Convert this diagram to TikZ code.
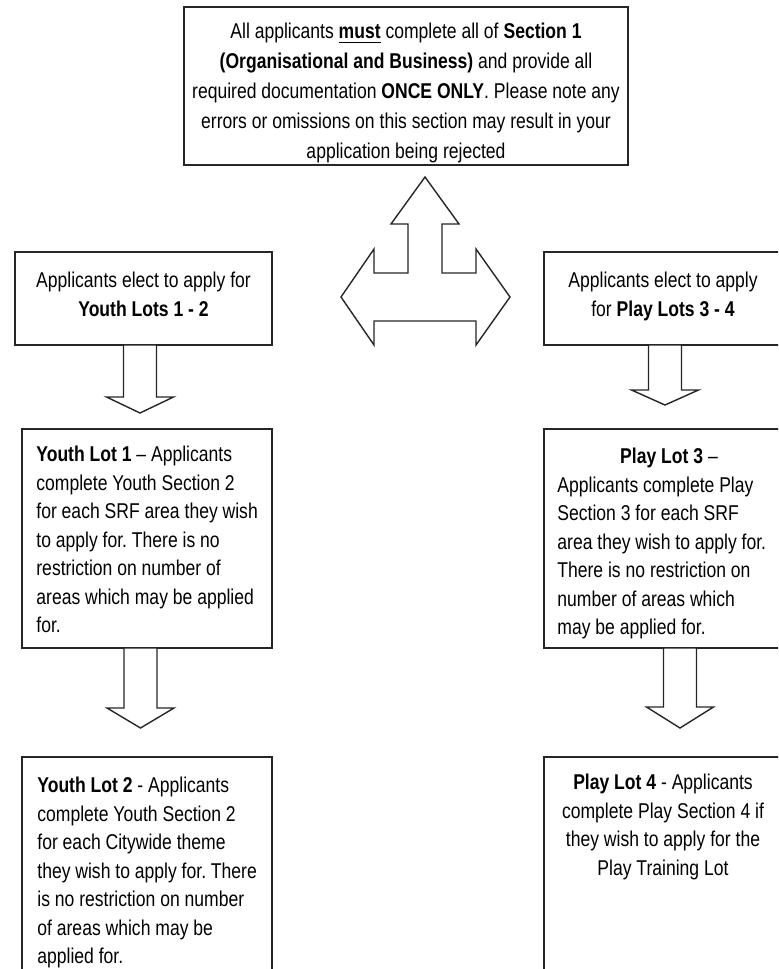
\documentclass[tikz,border=0pt]{standalone}
\usepackage{fontspec}
\setmainfont{Liberation Sans}[FakeStretch=0.82]
\usetikzlibrary{positioning, calc}
\tikzset{
  lot_box/.style={rectangle, draw=black!85, line width=0.9pt, inner sep=0pt, outer sep=0pt, anchor=north west},
  lot_text/.style={inner sep=0pt, font=\frenchspacing\fontsize{10.7pt}{14.25pt}\selectfont},
  top_text/.style={inner sep=0pt, align=center, font=\frenchspacing\fontsize{10.7pt}{14.9pt}\selectfont},
  block_arrow/.style={draw=black!85, line width=0.7pt, fill=white, line join=miter}
}
% block arrow pointing down: node, x offset, shaft length, head length
\newcommand{\downblock}[4]{%
  \draw[block_arrow] ($(#1.south)+(#2-16.5,0)$) -- ++(0,#3) -- ++(-17,0)
    -- ++(33.5,#4) -- ++(33.5,-#4) -- ++(-17,0) -- ++(0,-#3) -- cycle;}

\begin{document}
\begin{tikzpicture}[x=0.5pt, y=-0.5pt]
  \useasboundingbox (0,0) rectangle (778,969);
  \clip (0,0) rectangle (778,969);

  % --- Boxes ---
  \node[lot_box, minimum width=222pt, minimum height=79pt] (top) at (184,7) {};
  \node[lot_box, minimum width=128.5pt, minimum height=46.5pt] (youthSel) at (15,252) {};
  \node[lot_box, minimum width=119pt, minimum height=46.5pt] (playSel) at (544,252) {};
  \node[lot_box, minimum width=125pt, minimum height=109.5pt] (youthA) at (22,429) {};
  \node[lot_box, minimum width=119pt, minimum height=109.5pt] (playA) at (544,429) {};
  \node[lot_box, minimum width=125pt, minimum height=115pt] (youthB) at (22,757) {};
  \node[lot_box, minimum width=119pt, minimum height=115pt] (playB) at (544,757) {};

  % --- Texts ---
  \node[top_text, below=8pt of top.north] (topText) {All applicants \underline{\textbf{must}} complete all of \textbf{Section 1}\\
    \textbf{(Organisational and Business)} and provide all\\
    required documentation \textbf{ONCE ONLY}. Please note any\\
    errors or omissions on this section may result in your\\
    application being rejected};
  \node[lot_text, align=center, below=10pt of youthSel.north] (youthSelText) {Applicants elect to apply for\\ \textbf{Youth Lots 1 - 2}};
  \node[lot_text, align=center, below=10pt of playSel.north] (playSelText) {Applicants elect to apply\\ for \textbf{Play Lots 3 - 4}};
  \node[lot_text, align=left, anchor=north west, below right=8.5pt and 7pt of youthA.north west] (youthAText) {\textbf{Youth Lot 1} -- Applicants\\
    complete Youth Section 2\\
    for each SRF area they wish\\
    to apply for. There is no\\
    restriction on number of\\
    areas which may be applied\\
    for.};
  \node[lot_text, below=9.5pt of playA.north, xshift=3pt] (playAHead) {\textbf{Play Lot 3} --};
  \node[lot_text, align=left, anchor=north west, below right=23.75pt and 6.5pt of playA.north west] (playAText) {Applicants complete Play\\
    Section 3 for each SRF\\
    area they wish to apply for.\\
    There is no restriction on\\
    number of areas which\\
    may be applied for.};
  \node[lot_text, align=left, anchor=north west, below right=10pt and 7.5pt of youthB.north west] (youthBText) {\textbf{Youth Lot 2} - Applicants\\
    complete Youth Section 2\\
    for each Citywide theme\\
    they wish to apply for. There\\
    is no restriction on number\\
    of areas which may be\\
    applied for.};
  \node[lot_text, align=center, below=8.5pt of playB.north] (playBText) {\textbf{Play Lot 4} - Applicants\\
    complete Play Section 4 if\\
    they wish to apply for the\\
    Play Training Lot};

  % --- Arrows ---
  \coordinate (hub) at (425,297);
  \draw[block_arrow] ($(hub)+(0,-120)$) -- ++(34,47) -- ++(-17,0) -- ++(0,49) -- ++(34,0)
    -- ++(0,-24) -- ++(34,48) -- ++(-34,48) -- ++(0,-24) -- ++(-102,0) -- ++(0,24)
    -- ++(-33,-48) -- ++(33,-48) -- ++(0,24) -- ++(34,0) -- ++(0,-49) -- ++(-17,0) -- cycle;
  \downblock{youthSel}{-3.5}{52}{16}
  \downblock{playSel}{2}{45}{15}
  \downblock{youthA}{-6.5}{60}{20}
  \downblock{playA}{17}{59}{21}
\end{tikzpicture}
\end{document}
